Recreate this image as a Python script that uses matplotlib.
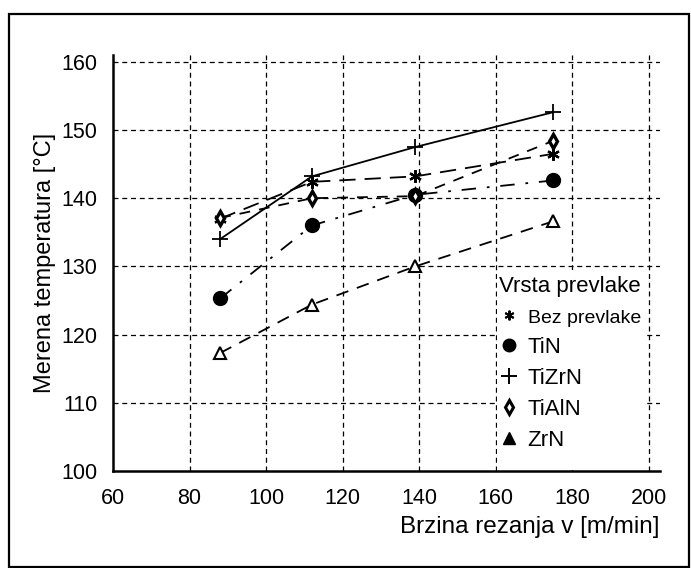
import matplotlib
matplotlib.use('Agg')
import matplotlib.pyplot as plt
from matplotlib.lines import Line2D
from matplotlib.patches import Rectangle

plt.rcParams['font.family'] = ['Liberation Sans', 'DejaVu Sans']

# cutting speed [m/min]
speed = [88, 112, 139, 175]

# measured temperature [C] per coating
bez_prevlake = [137.0, 142.4, 143.2, 146.5]
tin = [125.3, 136.0, 140.5, 142.6]
tizrn = [134.0, 143.2, 147.5, 152.6]
tialn = [137.1, 140.0, 140.3, 148.4]
zrn = [117.3, 124.4, 130.0, 136.6]

x_ticks = [60, 80, 100, 120, 140, 160, 180, 200]
y_ticks = [100, 110, 120, 130, 140, 150, 160]

fig = plt.figure(figsize=(6.91, 5.68), dpi=100)
ax = fig.add_axes([113 / 691, 97 / 568, 547 / 691, 416 / 568])

# outer frame around the whole figure
fig.patches.append(Rectangle((9 / 691, 1 / 568), 680 / 691, 553 / 568,
                             transform=fig.transFigure, fill=False,
                             edgecolor='black', linewidth=1.6))

lw = 1.3
ax.plot(speed, tizrn, color='black', linestyle='-', linewidth=lw,
        marker='+', markersize=11, markeredgewidth=1.3, zorder=4)
ax.plot(speed, bez_prevlake, color='black', linestyle=(0, (9, 5)), linewidth=lw,
        marker=(6, 2, 0), markersize=9, markeredgewidth=1.6, zorder=4)
ax.plot(speed, tialn, color='black', linestyle=(0, (6, 5)), linewidth=lw,
        marker='d', markersize=7, markerfacecolor='white', markeredgewidth=2.4, zorder=5)
ax.plot(speed, tin, color='black', linestyle=(0, (8, 6, 1.5, 6)), linewidth=lw,
        marker='o', markersize=10, zorder=4)
ax.plot(speed, zrn, color='black', linestyle=(0, (7, 5)), linewidth=lw,
        marker='^', markersize=9, markerfacecolor='white', markeredgewidth=1.5, zorder=4)

ax.set_xlim(60, 203)
ax.set_ylim(100, 161)
ax.set_xticks(x_ticks)
ax.set_yticks(y_ticks)
ax.tick_params(axis='both', length=0, labelsize=15.5)
ax.tick_params(axis='x', pad=12)
ax.tick_params(axis='y', pad=11)

for v in x_ticks[1:]:
    ax.axvline(v, color='black', linewidth=0.9, linestyle=(0, (4, 3)), zorder=1)
for v in y_ticks[1:]:
    ax.axhline(v, color='black', linewidth=0.9, linestyle=(0, (4, 3)), zorder=1)

for side in ['top', 'right']:
    ax.spines[side].set_visible(False)
for side in ['left', 'bottom']:
    ax.spines[side].set_linewidth(1.8)

ax.set_xlabel('Brzina rezanja v [m/min]', fontsize=17.5, loc='right', labelpad=5)
ax.set_ylabel('Merena temperatura [\u00b0C]', fontsize=17, labelpad=4)

# white area behind the legend (covers grid)
ax.add_patch(Rectangle((0.702, 0.003), 0.268, 0.48, transform=ax.transAxes,
                       facecolor='white', edgecolor='none', zorder=2))

handles = [
    Line2D([], [], color='black', linestyle='none', marker=(6, 2, 0), markersize=7, markeredgewidth=1.4),
    Line2D([], [], color='black', linestyle='none', marker='o', markersize=9),
    Line2D([], [], color='black', linestyle='none', marker='+', markersize=11, markeredgewidth=1.4),
    Line2D([], [], color='black', linestyle='none', marker='d', markersize=7,
           markerfacecolor='white', markeredgewidth=2.2),
    Line2D([], [], color='black', linestyle='none', marker='^', markersize=8),
]
labels = ['Bez prevlake', 'TiN', 'TiZrN', 'TiAlN', 'ZrN']
leg = ax.legend(handles, labels, title='Vrsta prevlake', loc='upper left',
                bbox_to_anchor=(0.705, 0.468), frameon=False, fontsize=16,
                title_fontsize=16, handlelength=0.9, handletextpad=0.4,
                labelspacing=0.45, borderaxespad=0, borderpad=0)
leg._legend_box.align = 'left'
leg.get_texts()[0].set_fontsize(14)
leg.set_zorder(6)

fig.savefig('out.png', dpi=100)
